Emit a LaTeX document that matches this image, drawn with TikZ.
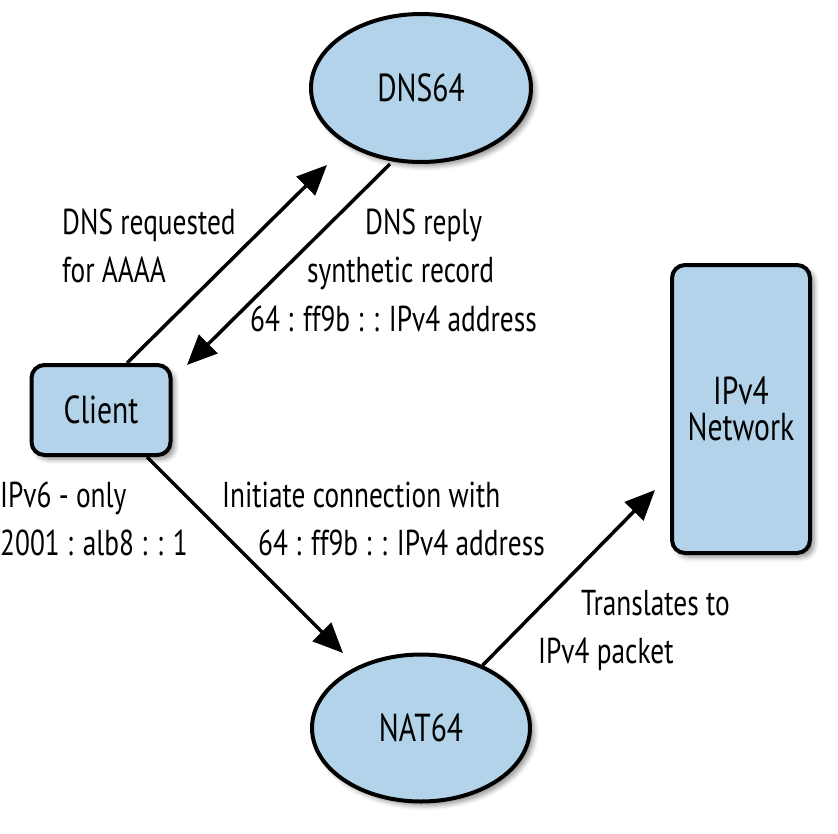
\documentclass[tikz,border=0pt]{standalone}
\usepackage{fontspec}
\setmainfont[FakeStretch=0.76]{PT Sans}
\usetikzlibrary{shapes.geometric,arrows.meta,shadows.blur}
\definecolor{nodeblue}{HTML}{B2D3E9}
\tikzset{
  shape base/.style={draw=black, line width=4pt, fill=nodeblue, inner sep=0pt,
    font=\fontsize{39}{42}\selectfont,
    blur shadow={shadow xshift=4pt, shadow yshift=-4pt, shadow blur radius=5pt, shadow blur steps=6, shadow opacity=45}},
  ellnode/.style={shape base, ellipse},
  boxnode/.style={shape base, rectangle, rounded corners=13pt, align=center},
  lbl/.style={anchor=base west, inner sep=0pt, font=\fontsize{36}{40}\selectfont},
  arr/.style={line width=3.5pt, -{Triangle[length=30pt,width=26pt]}},
}
\begin{document}
\begin{tikzpicture}[x=1pt,y=-1pt]
\useasboundingbox (0,0) rectangle (838,833);
% nodes
\node[ellnode, minimum width=220pt, minimum height=148pt] (dns) at (421,88) {DNS64};
\node[boxnode, minimum width=139pt, minimum height=90pt] (client) at (101,410) {Client};
\node[boxnode, minimum width=138pt, minimum height=288pt] (ipv4) at (741,409) {IPv4\\[-6pt]Network};
\node[ellnode, minimum width=218pt, minimum height=147pt] (nat) at (421,728) {NAT64};
% arrow end points
\coordinate (reqtip) at (327,165);
\coordinate (replytip) at (187,365);
\coordinate (nattip) at (343,653);
\coordinate (ipv4tip) at (655,490);
% connectors
\draw[arr] ([xshift=26pt]client.north) -- (reqtip);
\draw[arr] ([xshift=-31pt]dns.south) -- (replytip);
\draw[arr] ([xshift=46pt]client.south) -- (nattip);
\draw[arr] (nat) -- (ipv4tip);
% labels
\node[lbl] (l1) at (62,234) {DNS requested};
\node[lbl] (l2) at (62,282) {for AAAA};
\node[lbl] (l3) at (365,234) {DNS reply};
\node[lbl] (l4) at (307,282) {synthetic record};
\node[lbl] (l5) at (250,331) {64 : ff9b : : IPv4 address};
\node[lbl] (l6) at (0,507) {IPv6 - only};
\node[lbl] (l7) at (0,555) {2001 : alb8 : : 1};
\node[lbl] (l8) at (222,507) {Initiate connection with};
\node[lbl] (l9) at (258,555) {64 : ff9b : : IPv4 address};
\node[lbl] (l10) at (581,615) {Translates to};
\node[lbl] (l11) at (538,663) {IPv4 packet};
\end{tikzpicture}
\end{document}
